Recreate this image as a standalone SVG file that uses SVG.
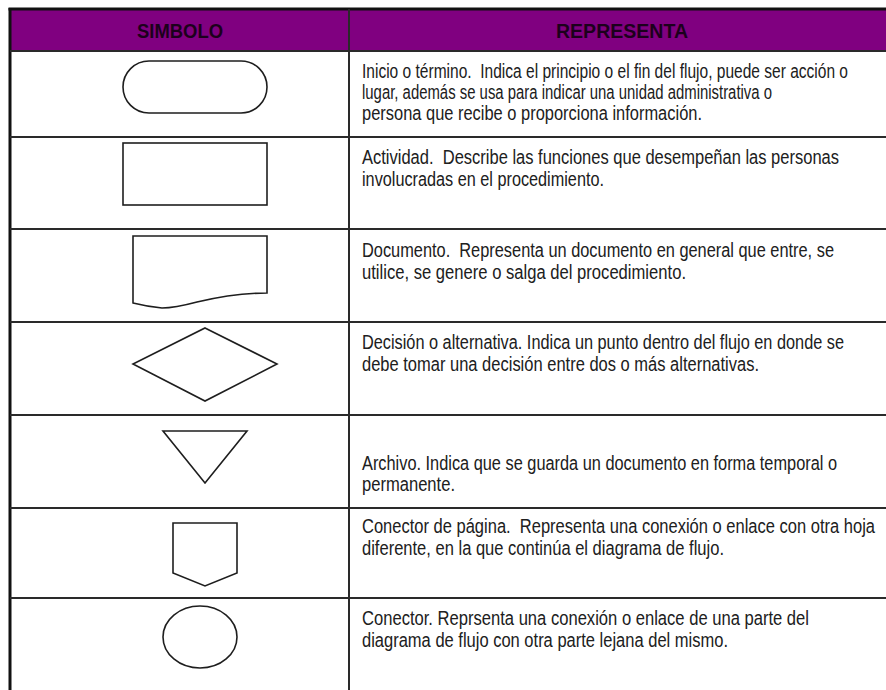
<svg xmlns="http://www.w3.org/2000/svg" width="886" height="690" viewBox="0 0 886 690">
<style>
.bg{fill:#ffffff}
.hdr{fill:#800080}
.grid{stroke:#2a2a2a;stroke-width:2;fill:none}
.border{stroke:#111111;stroke-width:3;fill:none}
.shape{fill:#ffffff;stroke:#1e1e1e;stroke-width:1.6}
.ht{font-family:"Liberation Sans Narrow","Liberation Sans",Arial,sans-serif;font-weight:bold;font-size:20px;fill:#1c001c;text-anchor:middle}
.t{font-family:"Liberation Sans Narrow","Liberation Sans",Arial,sans-serif;font-size:19.5px;fill:#202020}
</style>
<rect class="bg" x="0" y="0" width="886" height="690"/>
<g id="header">
  <rect class="hdr" x="10" y="9" width="876" height="42"/>
  <text class="ht" x="180" y="38" textLength="86" lengthAdjust="spacingAndGlyphs">SIMBOLO</text>
  <text class="ht" x="622" y="38" textLength="132" lengthAdjust="spacingAndGlyphs">REPRESENTA</text>
</g>
<g id="grid">
  <line class="border" x1="8.5" y1="9" x2="886" y2="9"/>
  <line class="border" x1="10" y1="8" x2="10" y2="690"/>
  <line class="grid" x1="349" y1="9" x2="349" y2="690"/>
  <line class="grid" x1="10" y1="51" x2="886" y2="51"/>
  <line class="grid" x1="10" y1="137" x2="886" y2="137"/>
  <line class="grid" x1="10" y1="229" x2="886" y2="229"/>
  <line class="grid" x1="10" y1="322" x2="886" y2="322"/>
  <line class="grid" x1="10" y1="415" x2="886" y2="415"/>
  <line class="grid" x1="10" y1="508" x2="886" y2="508"/>
  <line class="grid" x1="10" y1="598" x2="886" y2="598"/>
</g>
<g id="row-inicio">
  <rect class="shape" x="123" y="61" width="144" height="52" rx="26" ry="26"/>
  <text class="t" xml:space="preserve" x="362" y="78" textLength="486" lengthAdjust="spacingAndGlyphs">Inicio o término.  Indica el principio o el fin del flujo, puede ser acción o</text>
  <text class="t" x="362" y="99" textLength="410" lengthAdjust="spacingAndGlyphs">lugar, además se usa para indicar una unidad administrativa o</text>
  <text class="t" x="362" y="120" textLength="340" lengthAdjust="spacingAndGlyphs">persona que recibe o proporciona información.</text>
</g>
<g id="row-actividad">
  <rect class="shape" x="123" y="143" width="144" height="62"/>
  <text class="t" xml:space="preserve" x="362" y="164" textLength="477" lengthAdjust="spacingAndGlyphs">Actividad.  Describe las funciones que desempeñan las personas</text>
  <text class="t" x="362" y="186" textLength="242" lengthAdjust="spacingAndGlyphs">involucradas en el procedimiento.</text>
</g>
<g id="row-documento">
  <path class="shape" d="M133,236 H267 V293 C240,293 218,297 197,302 C182,306 172,308 162,308 C151,307 141,305 133,303 Z"/>
  <text class="t" xml:space="preserve" x="362" y="257" textLength="472" lengthAdjust="spacingAndGlyphs">Documento.  Representa un documento en general que entre, se</text>
  <text class="t" x="362" y="279" textLength="324" lengthAdjust="spacingAndGlyphs">utilice, se genere o salga del procedimiento.</text>
</g>
<g id="row-decision">
  <path class="shape" d="M205,328 L277,364 L205,401 L133,364 Z"/>
  <text class="t" x="362" y="349" textLength="482" lengthAdjust="spacingAndGlyphs">Decisión o alternativa. Indica un punto dentro del flujo en donde se</text>
  <text class="t" x="362" y="371" textLength="397" lengthAdjust="spacingAndGlyphs">debe tomar una decisión entre dos o más alternativas.</text>
</g>
<g id="row-archivo">
  <path class="shape" d="M163,431 H247 L205,483 Z"/>
  <text class="t" x="362" y="470" textLength="475" lengthAdjust="spacingAndGlyphs">Archivo. Indica que se guarda un documento en forma temporal o</text>
  <text class="t" x="362" y="491" textLength="93" lengthAdjust="spacingAndGlyphs">permanente.</text>
</g>
<g id="row-conector-pagina">
  <path class="shape" d="M173,523 H237 V573 L205,586 L173,573 Z"/>
  <text class="t" xml:space="preserve" x="362" y="533" textLength="513" lengthAdjust="spacingAndGlyphs">Conector de página.  Representa una conexión o enlace con otra hoja</text>
  <text class="t" x="362" y="555" textLength="362" lengthAdjust="spacingAndGlyphs">diferente, en la que continúa el diagrama de flujo.</text>
</g>
<g id="row-conector">
  <ellipse class="shape" cx="200" cy="637" rx="37" ry="31"/>
  <text class="t" x="362" y="625" textLength="447" lengthAdjust="spacingAndGlyphs">Conector. Reprsenta una conexión o enlace de una parte del</text>
  <text class="t" x="362" y="647" textLength="366" lengthAdjust="spacingAndGlyphs">diagrama de flujo con otra parte lejana del mismo.</text>
</g>
</svg>
